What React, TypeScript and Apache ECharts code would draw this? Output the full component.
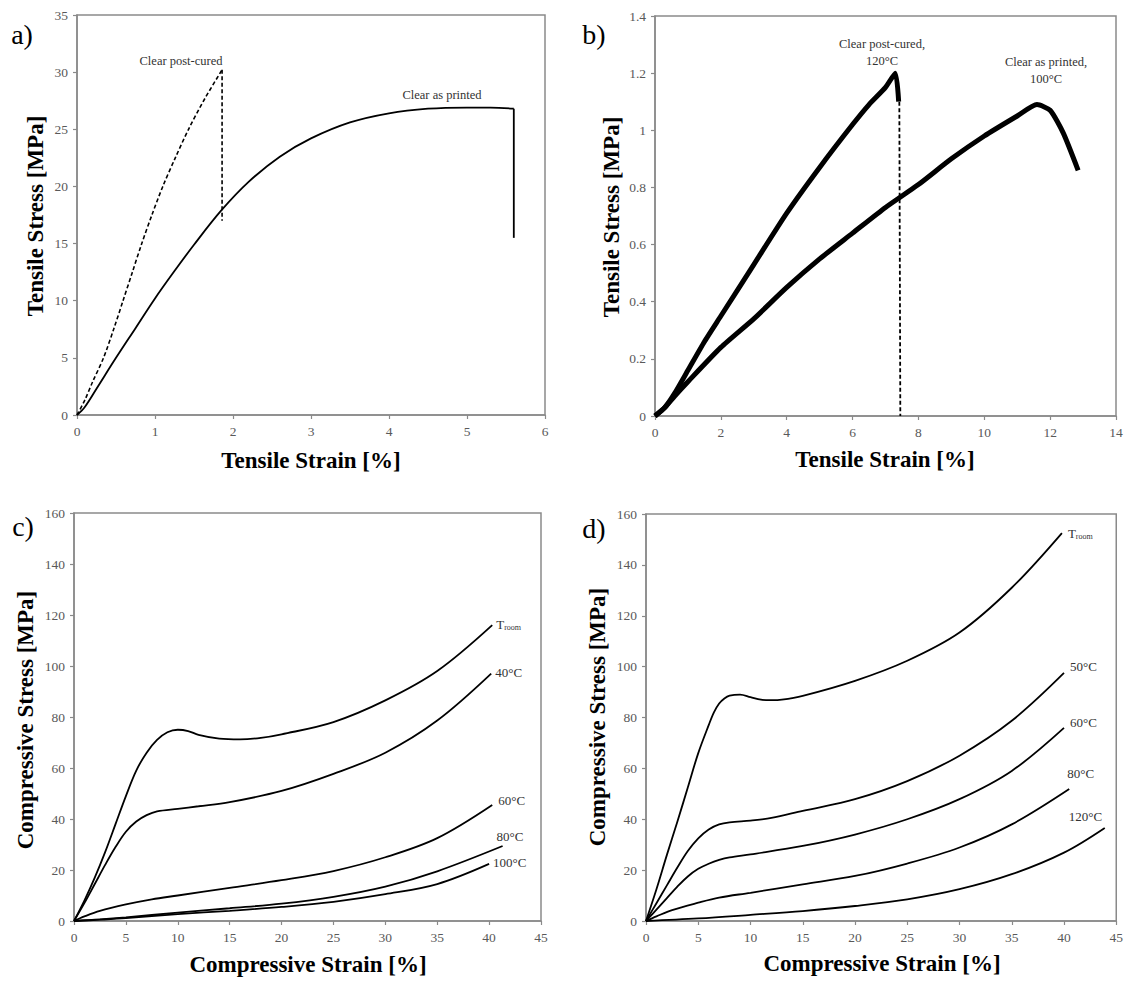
import React, { useEffect, useRef } from "react";
import * as echarts from "echarts";

// ---------- Panel a: tensile, room temperature ----------
const aPostCuredX = [0, 0.1, 0.2, 0.34, 0.47, 0.59, 0.71, 0.83, 0.96, 1.1, 1.26, 1.43, 1.64, 1.86];
const aPostCuredY = [0, 1.3, 2.9, 5, 7.5, 10, 12.5, 15, 17.5, 20, 22.5, 25, 27.7, 30.2];
const aPostCuredDropX = [1.86, 1.86];
const aPostCuredDropY = [30.2, 17.0];
const aPrintedX = [0, 0.1, 0.25, 0.5, 0.75, 1.0, 1.25, 1.5, 1.85, 2.2, 2.6, 3.0, 3.5, 4.0, 4.5, 5.0, 5.3, 5.6];
const aPrintedY = [0, 0.7, 2.3, 5.0, 7.6, 10.2, 12.6, 14.9, 17.9, 20.4, 22.6, 24.2, 25.6, 26.4, 26.8, 26.9, 26.9, 26.8];
const aPrintedDropX = [5.6, 5.6];
const aPrintedDropY = [26.8, 15.5];

// ---------- Panel b: tensile, elevated temperature ----------
const bPostCuredX = [0, 0.3, 0.6, 1, 1.5, 2, 3, 4, 5, 6, 6.5, 7, 7.3, 7.4];
const bPostCuredY = [0, 0.03, 0.08, 0.16, 0.26, 0.35, 0.53, 0.71, 0.87, 1.02, 1.09, 1.15, 1.2, 1.1];
const bPostCuredDropX = [7.42, 7.45];
const bPostCuredDropY = [1.1, 0];
const bPrintedX = [0, 0.3, 0.6, 1, 2, 3, 4, 5, 6, 7, 8, 9, 10, 11, 11.6, 12, 12.4, 12.85];
const bPrintedY = [0, 0.03, 0.07, 0.12, 0.24, 0.34, 0.45, 0.55, 0.64, 0.73, 0.81, 0.9, 0.98, 1.05, 1.09, 1.07, 0.99, 0.86];

// ---------- Panel c: compression, clear as printed ----------
const cRoomX = [0, 1, 2, 3, 4, 5, 6, 7, 8, 9, 10, 11, 12, 14, 16, 18, 20, 25, 30, 35, 40.3];
const cRoomY = [0, 8, 17, 27, 38, 49, 59, 66, 71, 74, 75, 74.5, 73, 71.5, 71.2, 71.8, 73.2, 78, 86.5, 98, 116];
const c40X = [0, 1, 2, 3, 4, 5, 6, 7, 8, 10, 12, 15, 20, 25, 30, 35, 40.2];
const c40Y = [0, 7, 14.5, 22, 29, 35, 39, 41.5, 43, 44, 45, 46.6, 51, 57.7, 66, 78.6, 97];
const c60X = [0, 1, 2.5, 5, 7.5, 10, 15, 20, 25, 30, 35, 40.3];
const c60Y = [0, 1.8, 4, 6.5, 8.5, 10, 13, 16, 19.6, 25, 32.5, 45.5];
const c80X = [0, 2.5, 5, 10, 15, 20, 25, 30, 35, 41.3];
const c80Y = [0, 0.6, 1.4, 3.3, 5, 6.8, 9.5, 13.5, 19.5, 29.4];
const c100X = [0, 2.5, 5, 10, 15, 20, 25, 30, 35, 40];
const c100Y = [0, 0.5, 1.1, 2.7, 4, 5.5, 7.5, 10.5, 14.5, 22.4];

// ---------- Panel d: compression, clear post-cured ----------
const dRoomX = [0, 1, 2, 3, 4, 5, 6, 6.5, 7, 7.5, 8, 9, 10, 11, 12, 13, 15, 20, 25, 30, 35, 39.8];
const dRoomY = [0, 12.5, 26, 39, 52.5, 66, 77, 82, 85.5, 87.5, 88.6, 89, 88, 87, 86.8, 87, 88.5, 94.4, 102.3, 113.4, 131, 152.5];
const d50X = [0, 1, 2, 3, 4, 5, 6, 7, 8, 10, 12, 15, 20, 25, 30, 35, 40];
const d50Y = [0, 7, 14, 21, 27.5, 32.5, 36, 38, 38.8, 39.5, 40.5, 43.3, 47.9, 55, 65, 78.7, 97.5];
const d60X = [0, 1, 2, 3, 4, 5, 6, 7, 8, 10, 15, 20, 25, 30, 35, 40];
const d60Y = [0, 4.5, 9, 13.5, 17.5, 20.5, 22.5, 24, 25, 26.2, 29.5, 34, 40, 47.9, 59, 75.9];
const d80X = [0, 1, 2.5, 5, 7, 10, 15, 20, 25, 30, 35, 40.5];
const d80Y = [0, 1.8, 4.3, 7.2, 9.2, 11.1, 14.4, 17.7, 22.6, 28.9, 38, 51.9];
const d120X = [0, 5, 10, 15, 20, 25, 30, 35, 40, 43.9];
const d120Y = [0, 1, 2.4, 3.9, 5.9, 8.5, 12.5, 18.4, 26.9, 36.6];

// ---------- axis ranges / ticks ----------
const aXMax = 6, aXStep = 1, aYMax = 35, aYStep = 5;
const bXMax = 14, bXStep = 2, bYMax = 1.4, bYStep = 0.2;
const cXMax = 45, cXStep = 5, cYMax = 160, cYStep = 20;

const FONT = "Liberation Serif";
const AXIS_GRAY = "#8a8a8a";
const LABEL_GRAY = "#595959";

const pairs = (xs: number[], ys: number[]) => xs.map((x, i) => [x, ys[i]]);

function axis(gridIndex: number, max: number, interval: number) {
  return {
    gridIndex,
    type: "value",
    min: 0,
    max,
    interval,
    axisLine: { show: true, onZero: false, lineStyle: { color: AXIS_GRAY, width: 1.5 } },
    axisTick: { show: true, length: 4, lineStyle: { color: AXIS_GRAY, width: 1.2 } },
    axisLabel: { color: LABEL_GRAY, fontFamily: FONT, fontSize: 13.5, margin: 9 },
    splitLine: { show: false },
  };
}

function line(
  idx: number,
  data: number[][],
  opts: { width?: number; dashed?: boolean; smooth?: number | boolean; label?: any } = {}
) {
  return {
    type: "line",
    xAxisIndex: idx,
    yAxisIndex: idx,
    data,
    showSymbol: false,
    symbol: "none",
    smooth: opts.smooth ?? 0.35,
    silent: true,
    lineStyle: {
      color: "#000",
      width: opts.width ?? 1.8,
      type: opts.dashed ? [4, 2.5] : "solid",
    },
    endLabel: opts.label,
  };
}

const endLbl = (text: string, offset: number[]) => ({
  show: true,
  formatter: text,
  color: "#333",
  fontFamily: FONT,
  fontSize: 13,
  distance: 4,
  offset,
  rich: {
    t: { fontFamily: FONT, fontSize: 13, color: "#333" },
    s: { fontFamily: FONT, fontSize: 8, color: "#333", padding: [7, 0, 0, 0] },
  },
});

const titleStyle = { fill: "#000", fontFamily: FONT, fontSize: 23, fontWeight: "bold" as const };
const annStyle = { fill: "#333", fontFamily: FONT, fontSize: 12.5 };
const panelStyle = { fill: "#000", fontFamily: FONT, fontSize: 28 };

function txt(x: number, y: number, text: string, style: any, rotation = 0) {
  return {
    type: "text",
    x,
    y,
    rotation,
    silent: true,
    style: { text, align: "center", verticalAlign: "middle", ...style },
  };
}

export default function App() {
  const ref = useRef<HTMLDivElement>(null);
  useEffect(() => {
    document.body.style.margin = "0";
    if (!ref.current) return;
    const chart = echarts.init(ref.current, undefined, { renderer: "svg" });
    const gridStyle = { show: true, borderColor: AXIS_GRAY, borderWidth: 1.5, backgroundColor: "transparent" };
    chart.setOption({
      animation: false,
      backgroundColor: "#fff",
      textStyle: { fontFamily: FONT },
      grid: [
        { left: 77, top: 15, width: 468, height: 400, ...gridStyle },
        { left: 655, top: 16, width: 461, height: 400, ...gridStyle },
        { left: 74, top: 513, width: 467, height: 408, ...gridStyle },
        { left: 646, top: 514, width: 472, height: 407, ...gridStyle },
      ],
      xAxis: [
        axis(0, aXMax, aXStep),
        axis(1, bXMax, bXStep),
        axis(2, cXMax, cXStep),
        axis(3, cXMax, cXStep),
      ],
      yAxis: [
        axis(0, aYMax, aYStep),
        axis(1, bYMax, bYStep),
        axis(2, cYMax, cYStep),
        axis(3, cYMax, cYStep),
      ],
      series: [
        // a
        line(0, pairs(aPostCuredX, aPostCuredY), { dashed: true, width: 1.6, smooth: 0.3 }),
        line(0, pairs(aPostCuredDropX, aPostCuredDropY), { dashed: true, width: 1.6, smooth: false }),
        line(0, pairs(aPrintedX, aPrintedY), { width: 1.8 }),
        line(0, pairs(aPrintedDropX, aPrintedDropY), { width: 1.8, smooth: false }),
        // b
        line(1, pairs(bPostCuredX, bPostCuredY), { width: 5, smooth: 0.2 }),
        line(1, pairs(bPostCuredDropX, bPostCuredDropY), { dashed: true, width: 1.8, smooth: false }),
        line(1, pairs(bPrintedX, bPrintedY), { width: 5, smooth: 0.2 }),
        // c
        line(2, pairs(cRoomX, cRoomY), { label: endLbl("{t|T}{s|room}", [0, -1]) }),
        line(2, pairs(c40X, c40Y), { label: endLbl("40°C", [0, -1]) }),
        line(2, pairs(c60X, c60Y), { label: endLbl("60°C", [2, -4]) }),
        line(2, pairs(c80X, c80Y), { label: endLbl("80°C", [-10, -10]) }),
        line(2, pairs(c100X, c100Y), { label: endLbl("100°C", [0, -1]) }),
        // d
        line(3, pairs(dRoomX, dRoomY), { label: endLbl("{t|T}{s|room}", [2, 0]) }),
        line(3, pairs(d50X, d50Y), { label: endLbl("50°C", [2, -6]) }),
        line(3, pairs(d60X, d60Y), { label: endLbl("60°C", [2, -5]) }),
        line(3, pairs(d80X, d80Y), { label: endLbl("80°C", [-6, -15]) }),
        line(3, pairs(d120X, d120Y), { label: endLbl("120°C", [-40, -11]) }),
      ],
      graphic: [
        txt(22, 34, "a)", panelStyle),
        txt(594, 34, "b)", panelStyle),
        txt(23, 526, "c)", panelStyle),
        txt(594, 528, "d)", panelStyle),
        txt(35, 216, "Tensile Stress [MPa]", titleStyle, Math.PI / 2),
        txt(311, 460, "Tensile Strain [%]", titleStyle),
        txt(611, 217, "Tensile Stress [MPa]", titleStyle, Math.PI / 2),
        txt(885, 459, "Tensile Strain [%]", titleStyle),
        txt(25, 720, "Compressive Stress [MPa]", titleStyle, Math.PI / 2),
        txt(308, 964, "Compressive Strain [%]", titleStyle),
        txt(597, 717, "Compressive Stress [MPa]", titleStyle, Math.PI / 2),
        txt(882, 963, "Compressive Strain [%]", titleStyle),
        txt(181, 61, "Clear post-cured", annStyle),
        txt(442, 95, "Clear as printed", annStyle),
        txt(882, 44, "Clear post-cured,", annStyle),
        txt(882, 61, "120°C", annStyle),
        txt(1046, 62, "Clear as printed,", annStyle),
        txt(1046, 79, "100°C", annStyle),
      ],
    });
    return () => chart.dispose();
  }, []);
  return <div ref={ref} style={{ width: 1126, height: 981 }} />;
}
